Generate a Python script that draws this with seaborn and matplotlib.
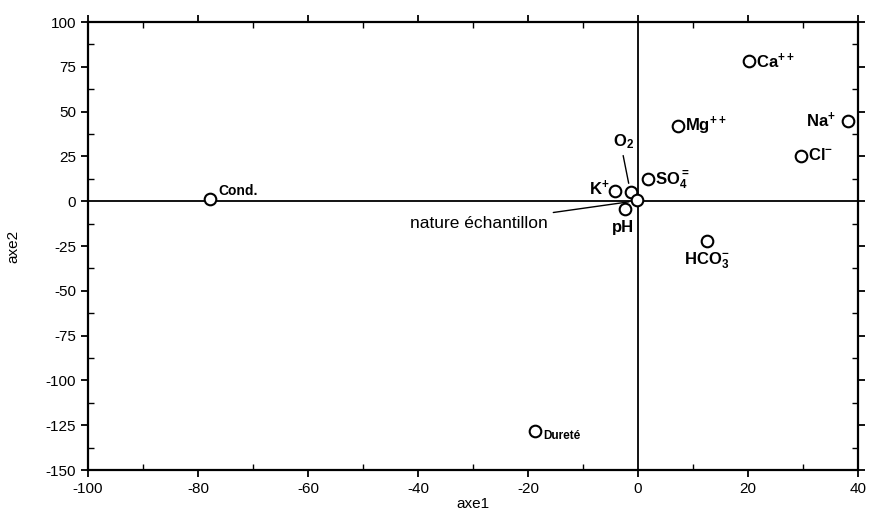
import matplotlib
matplotlib.use("Agg")
import matplotlib.pyplot as plt
import seaborn as sns
import pandas as pd

# Data
variables = ["Cond.", "Dureté", "K+", "O2", "nature échantillon", "pH", "SO4",
             "Mg++", "Ca++", "Na+", "Cl-", "HCO3-"]
axe1 = [-77.8, -18.7, -4.2, -1.3, -0.2, -2.4, 1.8, 7.3, 20.2, 38.2, 29.6, 12.5]
axe2 = [1.0, -128.0, 5.6, 5.0, 0.5, -4.5, 12.3, 42.0, 78.0, 45.0, 25.0, -22.0]
x_ticks = [-100, -80, -60, -40, -20, 0, 20, 40]
y_ticks = [100, 75, 50, 25, 0, -25, -50, -75, -100, -125, -150]

df = pd.DataFrame({"variable": variables, "axe1": axe1, "axe2": axe2})

sns.set_theme(style="ticks")
plt.rcParams["font.family"] = ["Liberation Sans", "DejaVu Sans"]
plt.rcParams["text.color"] = "black"
plt.rcParams["axes.labelcolor"] = "black"
plt.rcParams["xtick.color"] = "black"
plt.rcParams["ytick.color"] = "black"
plt.rcParams["mathtext.fontset"] = "custom"
plt.rcParams["mathtext.rm"] = "Liberation Sans"
plt.rcParams["mathtext.bf"] = "Liberation Sans:bold"
plt.rcParams["mathtext.default"] = "bf"

fig = plt.figure(figsize=(8.75, 5.13), dpi=100)
ax = fig.add_axes([0.1006, 0.0838, 0.8800, 0.8732])

ax.axhline(0, color="black", lw=1.3, zorder=1)
ax.axvline(0, color="black", lw=1.3, zorder=1)

sns.scatterplot(data=df, x="axe1", y="axe2", ax=ax, s=70, facecolor="white",
                edgecolor="black", linewidth=1.5, zorder=3, legend=False)

# label text and placement (offsets in points)
labels = {
    "Cond.": ("Cond.", (6, 1), "left", "bottom", 10),
    "Dureté": ("Dureté", (6, -4), "left", "center", 8.5),
    "K+": ("K$^{+}$", (-4, 2), "right", "center", 12),
    "O2": ("O$_2$", (-13, 30), "left", "bottom", 12),
    "pH": ("pH", (-1, -8), "center", "top", 12),
    "SO4": ("SO$_4^{=}$", (5, -1), "left", "center", 12),
    "Mg++": ("Mg$^{++}$", (5, 0), "left", "center", 12),
    "Ca++": ("Ca$^{++}$", (5, 0), "left", "center", 12),
    "Na+": ("Na$^{+}$", (-9, 0), "right", "center", 12),
    "Cl-": ("Cl$^{-}$", (5, 1), "left", "center", 12),
    "HCO3-": ("HCO$_3^{-}$", (0, -7), "center", "top", 12),
}
for v, x, y in zip(variables, axe1, axe2):
    if v in labels:
        t, off, ha, va, fs = labels[v]
        ax.annotate(t, (x, y), xytext=off, textcoords="offset points",
                    ha=ha, va=va, fontsize=fs, fontweight="bold",
                    color="black", zorder=4)

# O2 leader line
ax.annotate("", xy=(-1.6, 8.5), xytext=(-2.8, 27),
            arrowprops=dict(arrowstyle="-", color="black", lw=1.0))
# nature échantillon label with leader line
ax.annotate("nature échantillon", xy=(-0.9, 0.0), xytext=(-16.5, -8),
            textcoords="data", ha="right", va="top", fontsize=12.5,
            color="black",
            arrowprops=dict(arrowstyle="-", color="black", lw=1.0,
                            shrinkA=2, shrinkB=3))

ax.set_xlim(-100, 40)
ax.set_ylim(-150, 100)
ax.set_xticks(x_ticks)
ax.set_yticks(y_ticks)
ax.set_xticks(range(-90, 40, 20), minor=True)
ax.set_yticks([v - 12.5 for v in y_ticks[:-1]], minor=True)
ax.set_xticklabels([str(v) for v in x_ticks], fontsize=11)
ax.set_yticklabels([str(v) for v in y_ticks], fontsize=11)
ax.tick_params(axis="both", which="major", direction="out", length=5, width=1.3,
               colors="black", top=True, right=True)
ax.tick_params(axis="both", which="minor", direction="in", length=4, width=1.0,
               colors="black", top=True, right=True)
for sp in ax.spines.values():
    sp.set_linewidth(1.6)
    sp.set_color("black")

ax.set_xlabel("axe1", fontsize=11, labelpad=1, color="black")
ax.set_ylabel("axe2", fontsize=11, labelpad=18, color="black")

fig.savefig("out.png", dpi=100)
